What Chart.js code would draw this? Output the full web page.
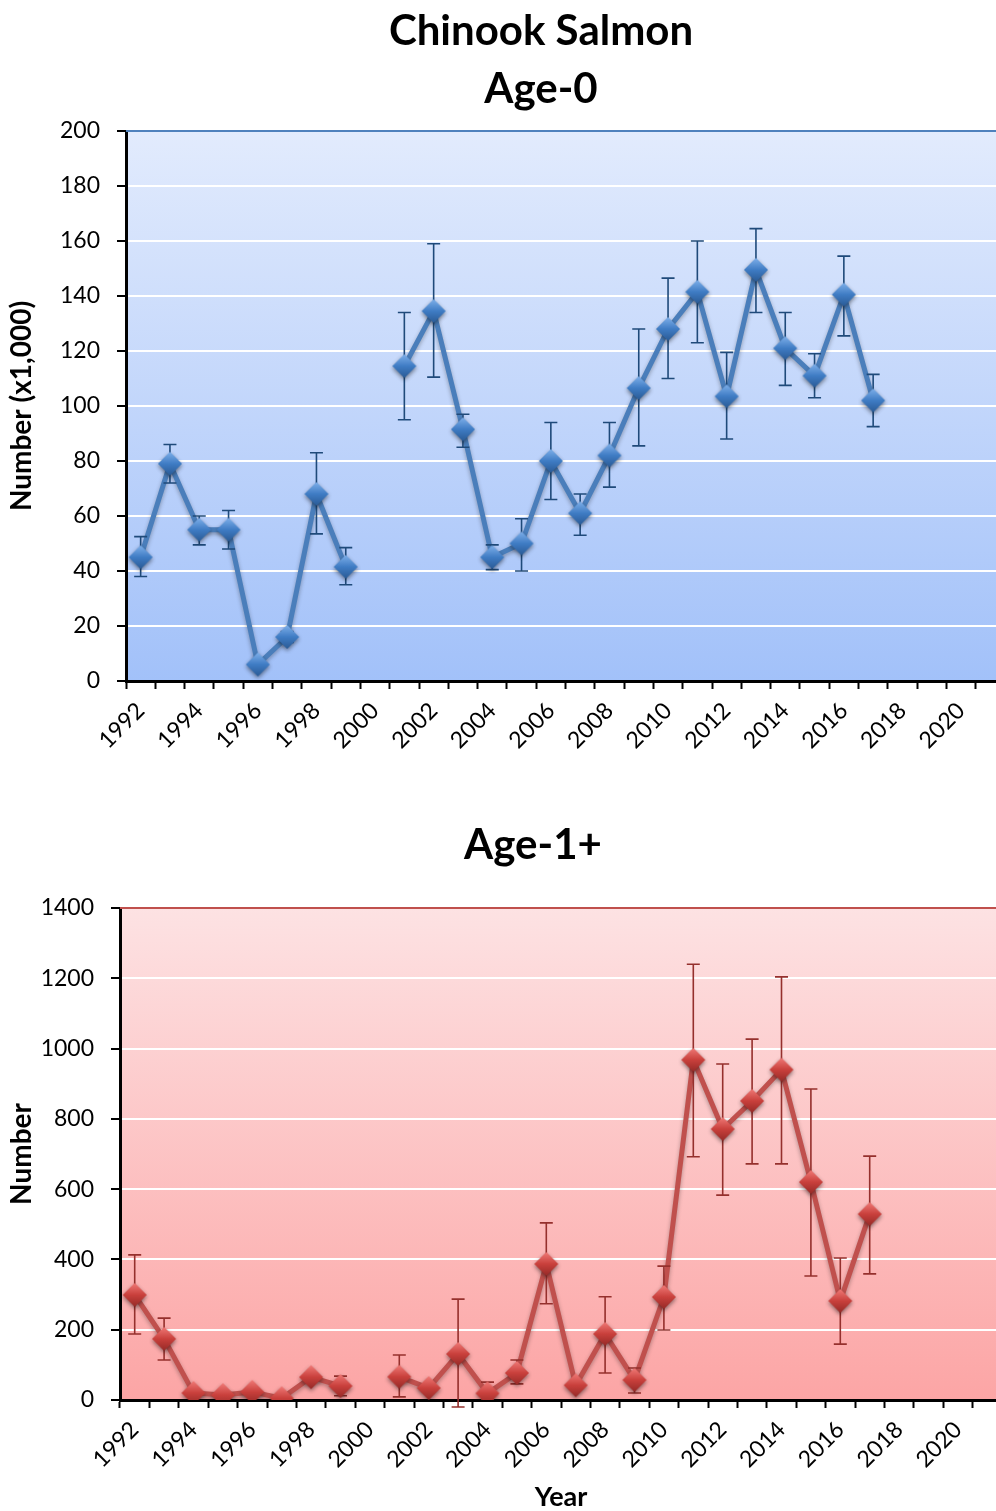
<!DOCTYPE html>
<html>
<head>
<meta charset="utf-8">
<script src="https://cdn.jsdelivr.net/npm/chart.js@4.4.1/dist/chart.umd.min.js"></script>
<style>
  html, body { margin: 0; padding: 0; background: #fff; }
  #wrap { width: 996px; height: 1511px; overflow: hidden; position: relative; }
  canvas { display: block; }
</style>
</head>
<body>
<div id="wrap">
  <canvas id="age0" width="1082" height="770"></canvas>
  <canvas id="age1" width="1066" height="741"></canvas>
</div>
<script>
const years = [];
for (let y = 1992; y <= 2021; y++) years.push(String(y));

// Age-0 (x1,000), 2000 not sampled
const age0Values = [45, 79, 55, 55, 6, 16, 68, 41.5, null, 114.5, 134.5, 91.5, 45, 50, 80, 61, 82, 106.5, 128, 141.5, 103.5, 149.5, 121, 111, 140.5, 102];
const age0Low = [38, 72, 49.5, 48, 5, 14, 53.5, 35, null, 95, 110.5, 85, 40.5, 40, 66, 53, 70.5, 85.5, 110, 123, 88, 134, 107.5, 103, 125.5, 92.5];
const age0High = [52.5, 86, 60, 62, 7, 18, 83, 48.5, null, 134, 159, 97, 49.5, 59, 94, 68, 94, 128, 146.5, 160, 119.5, 164.5, 134, 119, 154.5, 111.5];

// Age-1+
const age1Values = [299, 174, 20, 14, 23, 5, 65, 40, null, 66, 34, 131, 19, 77, 387, 42, 188, 57, 293, 968, 771, 851, 940, 620, 282, 529];
const age1Low = [188, 114, 12, 8, 15, 2, 55, 12, null, 9, 24, -20, 2, 46, 274, 32, 77, 20, 199, 692, 583, 672, 672, 353, 159, 359];
const age1High = [413, 233, 28, 20, 31, 8, 75, 68, null, 128, 44, 287, 51, 114, 504, 52, 294, 91, 381, 1240, 956, 1027, 1204, 885, 404, 694];

const FONT = "Lato, 'Open Sans', sans-serif";

function makeDiamond(size, light, mid, dark) {
  const c = document.createElement('canvas');
  const pad = 5;
  c.width = c.height = size + pad * 2;
  const g = c.getContext('2d');
  const cx = c.width / 2, r = size / 2;
  g.shadowColor = 'rgba(0,0,0,0.45)';
  g.shadowBlur = 4;
  g.shadowOffsetY = 2;
  g.beginPath();
  g.moveTo(cx, cx - r);
  g.lineTo(cx + r, cx);
  g.lineTo(cx, cx + r);
  g.lineTo(cx - r, cx);
  g.closePath();
  const grad = g.createLinearGradient(0, cx - r, 0, cx + r);
  grad.addColorStop(0, light);
  grad.addColorStop(0.5, mid);
  grad.addColorStop(1, dark);
  g.fillStyle = grad;
  g.fill();
  return c;
}

const plotBackground = {
  id: 'plotBackground',
  beforeDraw(chart, args, opts) {
    const {ctx, chartArea: a} = chart;
    const grad = ctx.createLinearGradient(0, a.top, 0, a.bottom);
    grad.addColorStop(0, opts.top);
    grad.addColorStop(1, opts.bottom);
    ctx.save();
    ctx.fillStyle = grad;
    ctx.fillRect(a.left, a.top, a.right - a.left, a.bottom - a.top);
    ctx.restore();
  },
  beforeDatasetsDraw(chart, args, opts) {
    const {ctx, chartArea: a} = chart;
    ctx.save();
    ctx.strokeStyle = opts.border;
    ctx.lineWidth = 2;
    ctx.beginPath();
    ctx.moveTo(a.left, a.top);
    ctx.lineTo(a.right, a.top);
    ctx.stroke();
    ctx.restore();
  }
};

const errorBars = {
  id: 'errorBars',
  beforeDatasetDraw(chart, args) {
    if (args.index !== 1) return;
    const ctx = chart.ctx;
    ctx.save();
    ctx.shadowColor = 'rgba(0,0,0,0.3)';
    ctx.shadowBlur = 4;
    ctx.shadowOffsetY = 2;
  },
  afterDatasetDraw(chart, args, opts) {
    if (args.index !== 1) return;
    const ctx = chart.ctx;
    ctx.restore();
    const y = chart.scales.y;
    const meta = chart.getDatasetMeta(0);
    ctx.save();
    ctx.strokeStyle = opts.color;
    ctx.lineWidth = 1.6;
    opts.low.forEach((lo, i) => {
      const hi = opts.high[i];
      if (lo == null || hi == null) return;
      const x = meta.data[i].x;
      const y1 = y.getPixelForValue(lo);
      const y2 = y.getPixelForValue(hi);
      ctx.beginPath();
      ctx.moveTo(x, y1);
      ctx.lineTo(x, y2);
      ctx.moveTo(x - 6.5, y1);
      ctx.lineTo(x + 6.5, y1);
      ctx.moveTo(x - 6.5, y2);
      ctx.lineTo(x + 6.5, y2);
      ctx.stroke();
    });
    ctx.restore();
  }
};

function buildChart(id, cfg) {
  const tickFont = {family: FONT, size: 23};
  return new Chart(document.getElementById(id), {
    type: 'line',
    data: {
      labels: years,
      datasets: [
        {
          data: cfg.values,
          showLine: false,
          pointStyle: makeDiamond(24, cfg.light, cfg.mid, cfg.dark),
          pointRadius: 12
        },
        {
          data: cfg.values,
          borderColor: cfg.line,
          borderWidth: 5,
          pointRadius: 0,
          tension: 0
        }
      ]
    },
    options: {
      responsive: false,
      animation: false,
      events: [],
      layout: {padding: 0},
      plugins: {
        legend: {display: false},
        tooltip: {enabled: false},
        title: {
          display: true,
          text: cfg.title,
          color: '#000',
          font: {family: FONT, size: 42, weight: 'bold', lineHeight: '58px'},
          padding: cfg.titlePadding
        },
        plotBackground: {top: cfg.bgTop, bottom: cfg.bgBottom, border: cfg.border},
        errorBars: {low: cfg.low, high: cfg.high, color: cfg.errColor}
      },
      scales: {
        x: {
          offset: true,
          grid: {offset: true, drawOnChartArea: false, tickColor: '#000', tickLength: 8, tickWidth: 2},
          border: {color: '#000', width: 3},
          ticks: {
            autoSkip: false,
            minRotation: 45,
            maxRotation: 45,
            padding: 8,
            color: '#000',
            font: tickFont,
            callback: (v, i) => (Number(years[i]) % 2 === 0 ? years[i] : '')
          },
          title: cfg.xTitle,
          afterFit: s => { s.height = cfg.xHeight; }
        },
        y: {
          min: 0,
          max: cfg.max,
          ticks: {stepSize: cfg.step, padding: 17, color: '#000', font: tickFont, callback: v => String(v)},
          grid: {color: '#fff', lineWidth: 2, tickColor: '#000', tickLength: 9, tickWidth: 2},
          border: {color: '#000', width: 3},
          title: {
            display: true,
            text: cfg.yTitle,
            color: '#000',
            font: {family: FONT, size: 28, weight: 'bold', lineHeight: 1.1},
            padding: {top: 7, bottom: 0}
          },
          afterFit: s => { s.width = cfg.yWidth; }
        },
        y2: {
          position: 'right',
          display: true,
          grid: {display: false},
          border: {display: false},
          ticks: {display: false},
          afterFit: s => { s.width = cfg.rightWidth; }
        }
      }
    },
    plugins: [plotBackground, errorBars]
  });
}

buildChart('age0', {
  title: ['Chinook Salmon', 'Age-0'],
  titlePadding: {top: 2, bottom: 13},
  values: age0Values, low: age0Low, high: age0High,
  max: 200, step: 20,
  yTitle: 'Number (x1,000)',
  xTitle: {display: false},
  xHeight: 89, yWidth: 126, rightWidth: 77,
  bgTop: '#e2ebfd', bgBottom: '#a2c1f9', border: '#4f81bd',
  line: '#4a7ebb', light: '#7fb0ea', mid: '#3f7cc4', dark: '#2a5a94',
  errColor: '#1f4a7a'
});

buildChart('age1', {
  title: 'Age-1+',
  titlePadding: {top: 46, bottom: 34},
  values: age1Values, low: age1Low, high: age1High,
  max: 1400, step: 200,
  yTitle: 'Number',
  xTitle: {
    display: true,
    text: 'Year',
    color: '#000',
    font: {family: FONT, size: 27, weight: 'bold', lineHeight: 1},
    padding: {top: 0, bottom: 0}
  },
  xHeight: 111, yWidth: 120, rightWidth: 64,
  bgTop: '#fde2e3', bgBottom: '#fca5a5', border: '#c0504d',
  line: '#c0504d', light: '#f07a77', mid: '#c9403c', dark: '#952a27',
  errColor: '#95302d'
});
</script>
</body>
</html>
